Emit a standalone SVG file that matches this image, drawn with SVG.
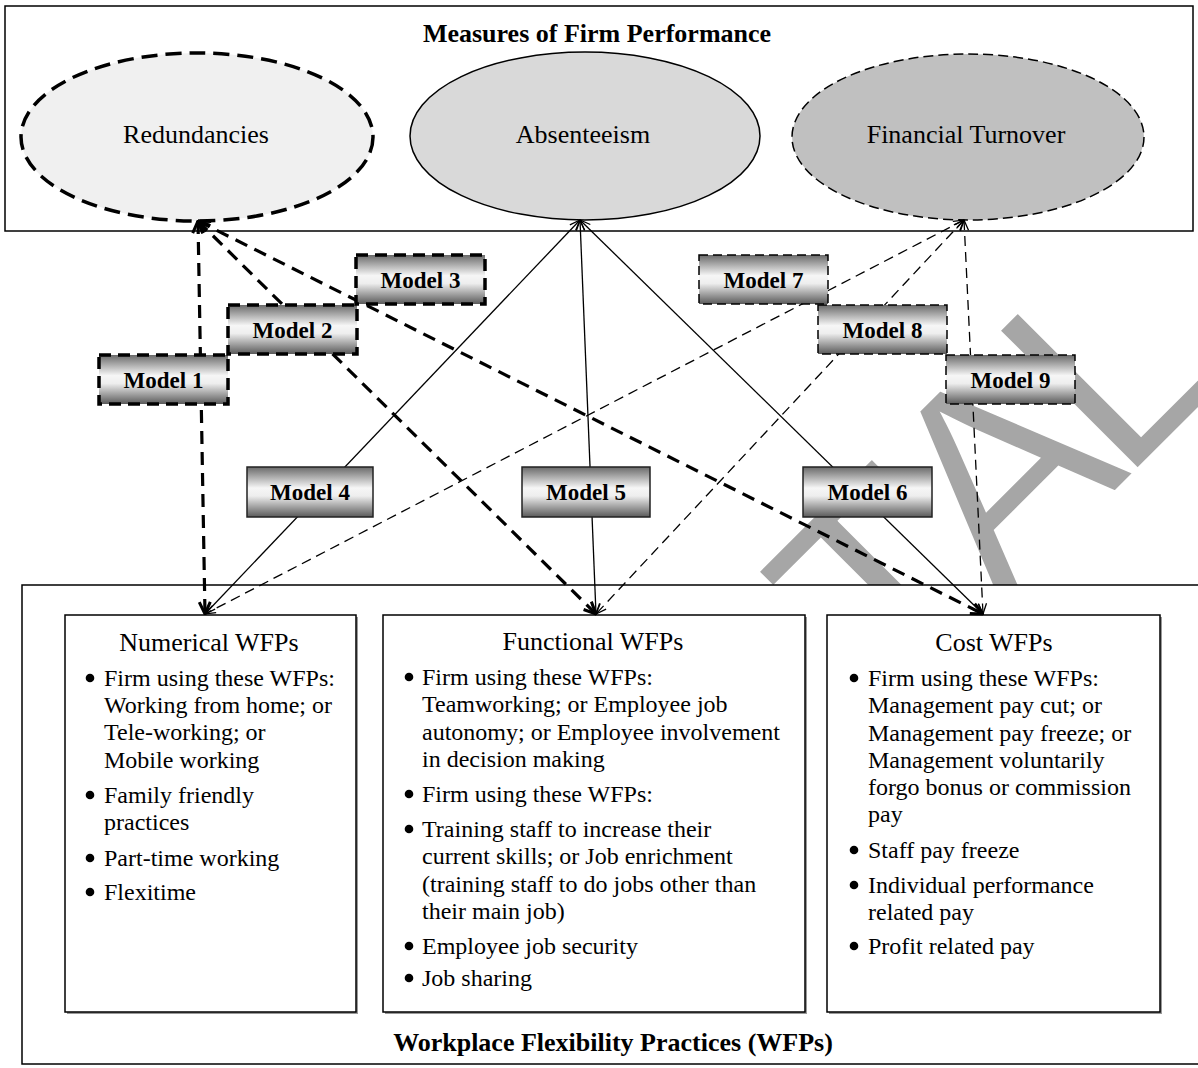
<svg xmlns="http://www.w3.org/2000/svg" width="1198" height="1068" viewBox="0 0 1198 1068">
<defs>
<linearGradient id="mg" x1="0" y1="0" x2="0" y2="1">
<stop offset="0" stop-color="#6a6a6a"/>
<stop offset="0.42" stop-color="#f6f6f6"/>
<stop offset="0.58" stop-color="#eeeeee"/>
<stop offset="1" stop-color="#5a5a5a"/>
</linearGradient>
<marker id="ak" viewBox="0 0 14 14" refX="13" refY="7" markerWidth="14" markerHeight="14" markerUnits="userSpaceOnUse" orient="auto-start-reverse">
<path d="M1,1.5 L13,7 L1,12.5" fill="none" stroke="#000" stroke-width="3"/>
</marker>
<marker id="an" viewBox="0 0 12 12" refX="11.5" refY="6" markerWidth="12" markerHeight="12" markerUnits="userSpaceOnUse" orient="auto-start-reverse">
<path d="M1,2 L11.5,6 L1,10" fill="none" stroke="#000" stroke-width="1.3"/>
</marker>
</defs>
<style>
text{font-family:"Liberation Serif","Times New Roman",serif;fill:#000}
.ttl{font-size:26px;font-weight:bold;text-anchor:middle}
.lab{font-size:26px;text-anchor:middle}
.bt{font-size:26px;text-anchor:middle}
.it{font-size:24px}
.ml{font-size:23px;font-weight:bold;text-anchor:middle}
.box{fill:#fff;stroke:#000;stroke-width:1.5}
.mb{fill:url(#mg)}
.m13{stroke:#000;stroke-width:3.5;stroke-dasharray:12 7}
.m46{stroke:#222;stroke-width:1.5}
.m79{stroke:#000;stroke-width:1.5;stroke-dasharray:9 5}
.c13{stroke:#000;stroke-width:3.2;stroke-dasharray:13 8;fill:none;marker-start:url(#ak);marker-end:url(#ak)}
.c46{stroke:#000;stroke-width:1.3;fill:none;marker-start:url(#an);marker-end:url(#an)}
.c79{stroke:#000;stroke-width:1.3;stroke-dasharray:10 6;fill:none;marker-start:url(#an);marker-end:url(#an)}
.wm{font-family:"Liberation Sans",Arial,sans-serif;font-size:285px;fill:#a6a6a6;stroke:#fff;stroke-width:3}
</style>
<rect width="1198" height="1068" fill="#fff"/>
<text class="wm" transform="translate(892,715) rotate(-45)"><tspan x="0">T</tspan><tspan x="153">A</tspan><tspan x="324">L</tspan></text>
<g id="top-panel">
<rect x="5" y="6" width="1188" height="225" fill="none" stroke="#000" stroke-width="1.5"/>
<text class="ttl" x="597" y="42">Measures of Firm Performance</text>
</g>
<g id="bottom-panel">
<rect x="22" y="585" width="1200" height="479" class="box"/>
<text class="ttl" x="613" y="1051">Workplace Flexibility Practices (WFPs)</text>
</g>
<g id="redundancies">
<ellipse cx="197" cy="137" rx="176" ry="84" fill="#f0f0f0" stroke="#000" stroke-width="3.5" stroke-dasharray="16 8"/>
<text class="lab" x="196" y="143">Redundancies</text>
</g>
<g id="absenteeism">
<ellipse cx="585" cy="136" rx="175" ry="84" fill="#d9d9d9" stroke="#000" stroke-width="1.5"/>
<text class="lab" x="583" y="143">Absenteeism</text>
</g>
<g id="financial-turnover">
<ellipse cx="968" cy="137" rx="176" ry="83" fill="#c0c0c0" stroke="#000" stroke-width="1.5" stroke-dasharray="10 5"/>
<text class="lab" x="966" y="143">Financial Turnover</text>
</g>
<g id="numerical-wfps">
<rect x="67" y="617" width="291" height="397" fill="#999"/>
<rect x="65" y="615" width="291" height="397" class="box"/>
<text class="bt" x="209" y="651">Numerical WFPs</text>
<g class="it">
<circle cx="90" cy="678" r="4.3"/><text x="104" y="686">Firm using these WFPs:</text>
<text x="104" y="713">Working from home; or</text>
<text x="104" y="740">Tele-working; or</text>
<text x="104" y="768">Mobile working</text>
<circle cx="90" cy="795" r="4.3"/><text x="104" y="803">Family friendly</text>
<text x="104" y="830">practices</text>
<circle cx="90" cy="858" r="4.3"/><text x="104" y="866">Part-time working</text>
<circle cx="90" cy="892" r="4.3"/><text x="104" y="900">Flexitime</text>
</g>
</g>
<g id="functional-wfps">
<rect x="385" y="617" width="422" height="397" fill="#999"/>
<rect x="383" y="615" width="422" height="397" class="box"/>
<text class="bt" x="593" y="650">Functional WFPs</text>
<g class="it">
<circle cx="409" cy="677" r="4.3"/><text x="422" y="685">Firm using these WFPs:</text>
<text x="422" y="712">Teamworking; or Employee job</text>
<text x="422" y="740">autonomy; or Employee involvement</text>
<text x="422" y="767">in decision making</text>
<circle cx="409" cy="794" r="4.3"/><text x="422" y="802">Firm using these WFPs:</text>
<circle cx="409" cy="829" r="4.3"/><text x="422" y="837">Training staff to increase their</text>
<text x="422" y="864">current skills; or Job enrichment</text>
<text x="422" y="892">(training staff to do jobs other than</text>
<text x="422" y="919">their main job)</text>
<circle cx="409" cy="946" r="4.3"/><text x="422" y="954">Employee job security</text>
<circle cx="409" cy="978" r="4.3"/><text x="422" y="986">Job sharing</text>
</g>
</g>
<g id="cost-wfps">
<rect x="829" y="617" width="333" height="397" fill="#999"/>
<rect x="827" y="615" width="333" height="397" class="box"/>
<text class="bt" x="994" y="651">Cost WFPs</text>
<g class="it">
<circle cx="854" cy="678" r="4.3"/><text x="868" y="686">Firm using these WFPs:</text>
<text x="868" y="713">Management pay cut; or</text>
<text x="868" y="741">Management pay freeze; or</text>
<text x="868" y="768">Management voluntarily</text>
<text x="868" y="795">forgo bonus or commission</text>
<text x="868" y="822">pay</text>
<circle cx="854" cy="850" r="4.3"/><text x="868" y="858">Staff pay freeze</text>
<circle cx="854" cy="885" r="4.3"/><text x="868" y="893">Individual performance</text>
<text x="868" y="920">related pay</text>
<circle cx="854" cy="946" r="4.3"/><text x="868" y="954">Profit related pay</text>
</g>
</g>
<g id="connectors">
<line id="c1" class="c13" x1="198" y1="221" x2="205" y2="614"/>
<line id="c2" class="c13" x1="198" y1="221" x2="596" y2="614"/>
<line id="c3" class="c13" x1="198" y1="221" x2="983" y2="614"/>
<line id="c4" class="c46" x1="580" y1="220" x2="205" y2="614"/>
<line id="c5" class="c46" x1="580" y1="220" x2="596" y2="614"/>
<line id="c6" class="c46" x1="580" y1="220" x2="983" y2="614"/>
<line id="c7" class="c79" x1="964" y1="220" x2="205" y2="614"/>
<line id="c8" class="c79" x1="964" y1="220" x2="596" y2="614"/>
<line id="c9" class="c79" x1="964" y1="220" x2="983" y2="614"/>
</g>
<g id="model1"><rect class="mb m13" x="99" y="355" width="129" height="49"/><text class="ml" x="163.5" y="388">Model 1</text></g>
<g id="model2"><rect class="mb m13" x="228" y="305" width="129" height="49"/><text class="ml" x="292.5" y="338">Model 2</text></g>
<g id="model3"><rect class="mb m13" x="356" y="255" width="129" height="49"/><text class="ml" x="420.5" y="288">Model 3</text></g>
<g id="model4"><rect class="mb m46" x="247" y="467" width="126" height="50"/><text class="ml" x="310" y="500">Model 4</text></g>
<g id="model5"><rect class="mb m46" x="522" y="467" width="128" height="50"/><text class="ml" x="586" y="500">Model 5</text></g>
<g id="model6"><rect class="mb m46" x="803" y="467" width="129" height="50"/><text class="ml" x="867.5" y="500">Model 6</text></g>
<g id="model7"><rect class="mb m79" x="699" y="255" width="129" height="49"/><text class="ml" x="763.5" y="288">Model 7</text></g>
<g id="model8"><rect class="mb m79" x="818" y="305" width="129" height="49"/><text class="ml" x="882.5" y="338">Model 8</text></g>
<g id="model9"><rect class="mb m79" x="946" y="355" width="129" height="49"/><text class="ml" x="1010.5" y="388">Model 9</text></g>
</svg>
